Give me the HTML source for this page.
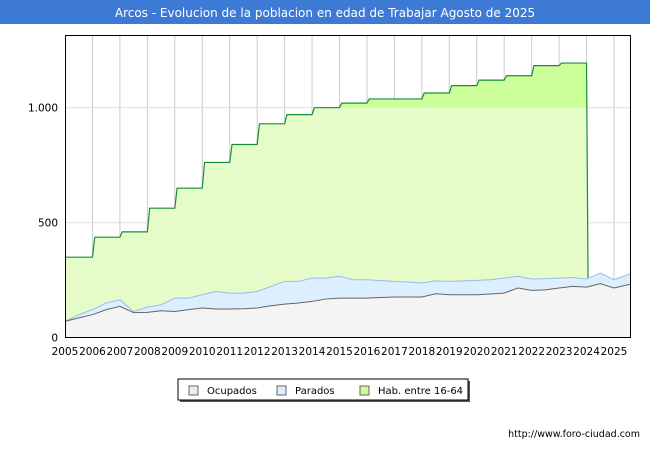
<!DOCTYPE html>
<html><head><meta charset="utf-8"><style>
body{margin:0;background:#fff;font-family:"Liberation Sans","DejaVu Sans",sans-serif}
svg text{font-family:"DejaVu Sans","Liberation Sans",sans-serif}
</style></head><body>
<svg id="c" width="650" height="450" xmlns="http://www.w3.org/2000/svg">
<rect x="0" y="0" width="650" height="24" fill="#3d7ad6"/>
<text x="325" y="17" font-size="12" fill="#fff" text-anchor="middle">Arcos - Evolucion de la poblacion en edad de Trabajar Agosto de 2025</text>
<g id="grid"></g>
<g id="series"></g>
<rect x="65.5" y="35.5" width="565" height="302" fill="none" stroke="#000" stroke-width="1"/>
<g id="axes"></g>
<g>
<rect x="180" y="381" width="290" height="21" fill="#555"/>
<rect x="178" y="379" width="290" height="21" fill="#fff" stroke="#000"/>
<rect x="189" y="386" width="9" height="9" fill="#eee" stroke="#666"/>
<text x="207" y="394" font-size="10">Ocupados</text>
<rect x="277" y="386" width="9" height="9" fill="#ddeeff" stroke="#666"/>
<text x="295" y="394" font-size="10">Parados</text>
<rect x="360" y="386" width="9" height="9" fill="#ccff99" stroke="#666"/>
<text x="378" y="394" font-size="10">Hab. entre 16-64</text>
</g>
<text x="640" y="437" font-size="9.5" text-anchor="end">http://www.foro-ciudad.com</text>
</svg>
<script>
const habYears=[2005,2006,2007,2008,2009,2010,2011,2012,2013,2014,2015,2016,2017,2018,2019,2020,2021,2022,2023];
const habValues=[350,437,460,563,650,762,840,930,970,1000,1020,1038,1038,1064,1096,1120,1139,1183,1194];
const seriesTimes=[2005,2005.5,2006,2006.5,2007,2007.5,2008,2008.5,2009,2009.5,2010,2010.5,2011,2011.5,2012,2012.5,2013,2013.5,2014,2014.5,2015,2015.5,2016,2016.5,2017,2017.5,2018,2018.5,2019,2019.5,2020,2020.5,2021,2021.5,2022,2022.5,2023,2023.5,2024,2024.5,2025,2025.6];
const ocupados=[71,86,100,122,136,109,110,117,114,122,129,125,125,126,129,139,146,151,158,168,172,172,172,175,177,177,177,191,187,187,187,190,194,216,206,208,216,223,220,235,216,233];
const totalActivos=[71,100,122,151,165,114,133,143,172,172,187,201,194,194,201,223,245,245,259,259,267,252,252,248,245,242,238,247,245,247,249,252,259,267,255,257,259,262,255,281,252,278];
const yTicks=[0,500,1000];
const yTickLabels=["0","500","1.000"];
const xTicks=[2005,2006,2007,2008,2009,2010,2011,2012,2013,2014,2015,2016,2017,2018,2019,2020,2021,2022,2023,2024,2025];
const NS="http://www.w3.org/2000/svg";
const X=t=>65+(t-2005)*27.45;
const Y=v=>337.7-v*0.23;
function mk(tag,attrs,parent){const e=document.createElementNS(NS,tag);for(const k in attrs)e.setAttribute(k,attrs[k]);document.getElementById(parent).appendChild(e);return e;}
xTicks.forEach((t,i)=>{if(i>0){const l=mk('line',{x1:X(t),x2:X(t),y1:36,y2:337,stroke:'#ccc'},'grid');

}});
yTicks.forEach(v=>{if(v>0){const l=mk('line',{x1:66,x2:630,y1:Y(v),y2:Y(v),stroke:'#ddd'},'grid');

}});
let hp=[];habYears.forEach((yr,i)=>{hp.push([X(yr)+(i?2.3:0),Y(habValues[i])]);hp.push([X(yr+1),Y(habValues[i])]);});
const endX=X(2024)+1.5;
const habTop=hp.map(p=>p.join(',')).join(' L');
const habArea='M'+X(2005)+','+Y(0)+' L'+habTop+' L'+endX+','+Y(totalActivos[38])+' L'+endX+','+Y(0)+' Z';
const cp=mk('clipPath',{id:'below1000'},'series');mk('rect',{x:0,y:Y(1000),width:650,height:400},'series');
cp.appendChild(document.getElementById('series').lastChild);
const a1=mk('path',{d:habArea,fill:'#ccff99'},'series');


const a2=mk('path',{d:habArea,fill:'#e6fcc8','clip-path':'url(#below1000)'},'series');


const hl=mk('path',{d:'M'+habTop+' L'+endX+','+Y(totalActivos[38]),fill:'none',stroke:'#1a8c3a','stroke-width':1.2},'series');


const tp=seriesTimes.map((t,i)=>X(t)+','+Y(totalActivos[i])).join(' L');
const op=seriesTimes.map((t,i)=>X(t)+','+Y(ocupados[i])).join(' L');
const lastX=X(seriesTimes[seriesTimes.length-1]);
const pa=mk('path',{d:'M'+X(2005)+','+Y(0)+' L'+tp+' L'+lastX+','+Y(0)+' Z',fill:'#ddeeff'},'series');


const pl=mk('path',{d:'M'+tp,fill:'none',stroke:'#99bbee'},'series');


const oa=mk('path',{d:'M'+X(2005)+','+Y(0)+' L'+op+' L'+lastX+','+Y(0)+' Z',fill:'#f4f4f4'},'series');


const ol=mk('path',{d:'M'+op,fill:'none',stroke:'#666'},'series');


yTicks.forEach((v,i)=>{const t=mk('text',{x:58,y:Y(v)+4,'font-size':10.5,'text-anchor':'end'},'axes');t.textContent=yTickLabels[i];

});
xTicks.forEach(yr=>{const t=mk('text',{x:X(yr),y:355,'font-size':10.5,'text-anchor':'middle'},'axes');t.textContent=String(yr);

});
</script>
</body></html>
